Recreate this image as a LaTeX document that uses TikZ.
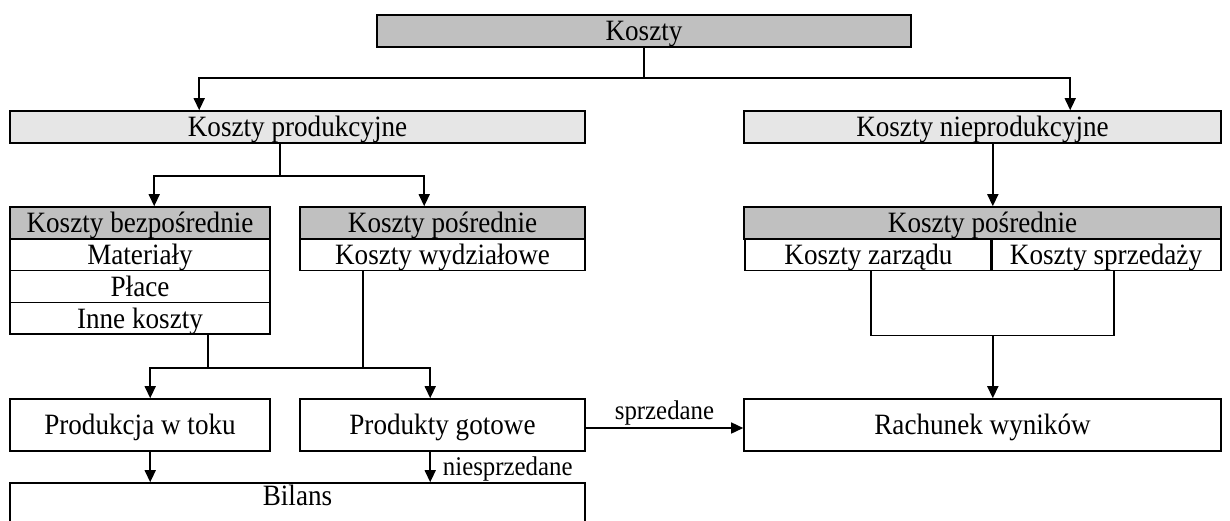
\documentclass[tikz,border=0pt]{standalone}
\usepackage{fontspec}
\setmainfont{Liberation Serif}[FakeStretch=0.92]
\usetikzlibrary{arrows.meta}
\definecolor{dk}{HTML}{C0C0C0}
\definecolor{lt}{HTML}{E6E6E6}
\begin{document}
\begin{tikzpicture}[x=1pt,y=-1pt,
  box/.style={draw, line width=1.6pt, inner sep=0pt, font=\fontsize{29.5}{33}\selectfont, text height=19.5pt, text depth=0pt, align=center},
  ln/.style={line width=1.5pt},
  arr/.style={ln, -{Triangle[length=12pt,width=11pt]}},
  lbl/.style={font=\fontsize{27}{30}\selectfont, inner sep=2pt}]
\useasboundingbox (0,0) rectangle (1230,520);
% top
\node[box, fill=dk, minimum width=534pt, minimum height=32pt] (koszty) at (644,31) {Koszty};
\node[box, fill=lt, minimum width=575pt, minimum height=32pt] (kp) at (297.5,127) {Koszty produkcyjne};
\node[box, fill=lt, minimum width=477pt, minimum height=32pt] (kn) at (982.5,127) {Koszty nieprodukcyjne};
% left column
\node[box, fill=dk, minimum width=260pt, minimum height=32pt] (kb) at (140,223) {Koszty bezpośrednie};
\node[box, minimum width=260pt, minimum height=31.5pt] (mat) at (140,254.75) {Materiały};
\node[box, minimum width=260pt, minimum height=32pt] (place) at (140,286.5) {Płace};
\node[box, minimum width=260pt, minimum height=31.5pt] (inne) at (140,318.25) {Inne koszty};
% middle column
\node[box, fill=dk, minimum width=285pt, minimum height=32pt] (kps) at (442.5,223) {Koszty pośrednie};
\node[box, minimum width=285pt, minimum height=31.5pt] (wydz) at (442.5,254.75) {Koszty wydziałowe};
% right column
\node[box, fill=dk, minimum width=477pt, minimum height=32pt] (kpr) at (982.5,223) {Koszty pośrednie};
\node[box, minimum width=247pt, minimum height=31.5pt] (zarz) at (868.5,254.75) {Koszty zarządu};
\node[box, minimum width=230pt, minimum height=31.5pt] (sprz) at (1106,254.75) {Koszty sprzedaży};
% lower boxes
\node[box, minimum width=260pt, minimum height=52pt] (pwt) at (140,425) {Produkcja w toku};
\node[box, minimum width=285pt, minimum height=52pt] (pg) at (442.5,425) {Produkty gotowe};
\node[box, minimum width=477pt, minimum height=52pt] (rach) at (982.5,425) {Rachunek wyników};
\node[box, minimum width=575pt, minimum height=40pt, text depth=15.5pt] (bilans) at (297.5,503) {Bilans};
% connectors top
\draw[ln] (koszty.south) -- ++(0,30) coordinate (j1);
\draw[arr] (j1) -| ([xshift=190pt]kp.north west);
\draw[arr] (j1) -| ([xshift=327pt]kn.north west);
\draw[ln] ([xshift=271pt]kp.south west) -- ++(0,32) coordinate (j2);
\draw[arr] (j2) -| ([xshift=145pt]kb.north west);
\draw[arr] (j2) -| ([xshift=125pt]kps.north west);
\draw[arr] (zarz.north east |- kn.south) -- (zarz.north east |- kpr.north);
% right lower
\coordinate (z1) at ([xshift=2.5pt]zarz.south);
\coordinate (s1) at ([xshift=8pt]sprz.south);
\draw[ln] (z1) -- ++(0,64) -| (s1);
\path (zarz.south east) ++(0,64) coordinate (j5);
\draw[arr] (j5) -- (j5 |- rach.north);
% left lower
\coordinate (i1) at ([xshift=199pt]inne.south west);
\draw[ln] (i1) -- ++(0,33) coordinate (j3);
\coordinate (w1) at ([xshift=64pt]wydz.south west);
\draw[ln] (w1) |- (j3);
\draw[arr] (j3) -| ([xshift=141pt]pwt.north west);
\draw[arr] (j3) -| ([xshift=131pt]pg.north west);
% sold / unsold
\coordinate (g1) at ([yshift=-3pt]pg.east);
\draw[arr] (g1) -- (g1 -| rach.west) node[midway, above, lbl] {sprzedane};
\coordinate (b1) at ([xshift=141pt]pwt.south west);
\draw[arr] (b1) -- (b1 |- bilans.north);
\coordinate (b2) at ([xshift=131pt]pg.south west);
\draw[arr] (b2) -- (b2 |- bilans.north) node[midway, right, lbl, xshift=10pt, yshift=-2pt] {niesprzedane};
\end{tikzpicture}
\end{document}
